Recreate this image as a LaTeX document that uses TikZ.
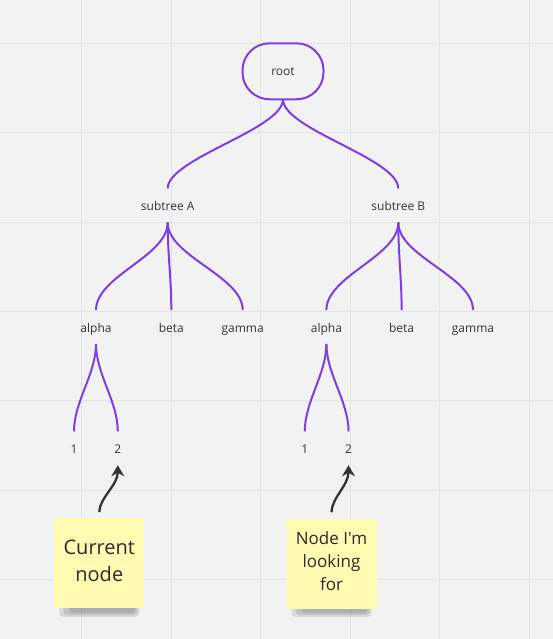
\documentclass[tikz,border=0pt]{standalone}
\usepackage{fontspec}
\setmainfont{Open Sans}[Ligatures = TeXOff]
\usepackage{tkz-graph}
\usetikzlibrary{arrows}
\usetikzlibrary{arrows.meta}
\usetikzlibrary{shapes}

\definecolor{boardGray}{HTML}{F2F2F2}
\definecolor{gridGray}{HTML}{E3E3E3}
\definecolor{treePurple}{HTML}{7B3FE4}
\definecolor{labelGray}{HTML}{333333}
\definecolor{stickyYellow}{HTML}{FFF9B1}
\definecolor{stickyText}{HTML}{2B2B2B}
\definecolor{pointerGray}{HTML}{333333}

\begin{document}
\begin{tikzpicture}[x = 1pt, y = -1pt]
	\tikzstyle{VertexStyle} = []
	\tikzstyle{EdgeStyle} = [draw = treePurple, line width = 2pt, out = -90, in = 90]
	\tikzstyle{rootStyle} = [shape = rectangle, rounded corners = 27pt, minimum width = 81pt, minimum height = 56pt, draw = treePurple, line width = 2pt, text = labelGray, font = \fontsize{12}{14}\selectfont]
	\tikzstyle{labelStyle} = [shape = rectangle, minimum height = 34pt, inner sep = 0pt, outer sep = 0pt, text height = 10pt, text depth = 0pt, text = labelGray, font = \fontsize{12}{14}\selectfont]
	\tikzstyle{stickyStyle} = [shape = rectangle, minimum size = 90pt, inner sep = 0pt, fill = stickyYellow]
	\tikzstyle{stickyText} = [align = center, text = stickyText, yshift = 2.5pt]
	\tikzstyle{pointerStyle} = [draw = pointerGray, line width = 2.3pt, out = 90, in = -90, distance = 20pt, shorten <= 6pt, -{Stealth[length = 11pt, width = 13pt]}]
	\tikzstyle{shadowStyle} = [fill = black, opacity = 0.1, rounded corners = 4pt]
	% board
	\useasboundingbox (0,0) rectangle (553,639);
	\fill[boardGray] (0,0) rectangle (553,639);
	\foreach \gx in {81.5, 171, 260.5, 350, 439.5, 529}
		\draw[gridGray, line width = 1pt] (\gx,0) -- (\gx,639);
	\foreach \gy in {43.3, 132.7, 222, 311.3, 400.6, 490, 579.3}
		\draw[gridGray, line width = 1pt] (0,\gy) -- (553,\gy);
	% tree
	\Vertex[style = rootStyle, x = 283.0, y = 71.3, L = {root}]{root}
	\Vertex[style = labelStyle, x = 167.7, y = 205.5, L = {subtree A}]{sA}
	\Vertex[style = labelStyle, x = 398.3, y = 205.5, L = {subtree B}]{sB}
	\Vertex[style = labelStyle, x = 96.0, y = 327.0, L = {alpha}]{alA}
	\Vertex[style = labelStyle, x = 171.3, y = 327.0, L = {beta}]{beA}
	\Vertex[style = labelStyle, x = 242.7, y = 327.0, L = {gamma}]{gaA}
	\Vertex[style = labelStyle, x = 326.4, y = 327.0, L = {alpha}]{alB}
	\Vertex[style = labelStyle, x = 401.6, y = 327.0, L = {beta}]{beB}
	\Vertex[style = labelStyle, x = 473.0, y = 327.0, L = {gamma}]{gaB}
	\Vertex[style = labelStyle, x = 74.0, y = 448.3, L = {1}]{oneA}
	\Vertex[style = labelStyle, x = 117.8, y = 448.3, L = {2}]{twoA}
	\Vertex[style = labelStyle, x = 304.8, y = 448.3, L = {1}]{oneB}
	\Vertex[style = labelStyle, x = 348.5, y = 448.3, L = {2}]{twoB}
	\Edge[style = {distance = 30pt}](root)(sA)
	\Edge[style = {distance = 30pt}](root)(sB)
	\Edge[style = {distance = 34pt}](sA)(alA)
	\Edge[style = {distance = 34pt}](sA)(beA)
	\Edge[style = {distance = 34pt}](sA)(gaA)
	\Edge[style = {distance = 34pt}](sB)(alB)
	\Edge[style = {distance = 34pt}](sB)(beB)
	\Edge[style = {distance = 34pt}](sB)(gaB)
	\Edge[style = {distance = 30pt}](alA)(oneA)
	\Edge[style = {distance = 30pt}](alA)(twoA)
	\Edge[style = {distance = 30pt}](alB)(oneB)
	\Edge[style = {distance = 30pt}](alB)(twoB)
	% sticky notes
	\foreach \sx in {99.3, 331.5}
	{
		\fill[shadowStyle] (\sx-40,600) rectangle (\sx+40,617);
		\fill[shadowStyle] (\sx-36,600) rectangle (\sx+38,615);
		\fill[shadowStyle] (\sx-30,600) rectangle (\sx+36,613);
	}
	\node[stickyStyle, label = {[stickyText, font = \fontsize{20}{27.6}\selectfont]center:{Current\\node}}] (noteA) at (99.3,563.3) {};
	\node[stickyStyle, label = {[stickyText, font = \fontsize{17}{23.3}\selectfont]center:{Node I'm\\looking\\for}}] (noteB) at (331.5,563.5) {};
	\draw[pointerStyle] (noteA) to (twoA);
	\draw[pointerStyle] (noteB) to (twoB);
\end{tikzpicture}
\end{document}
